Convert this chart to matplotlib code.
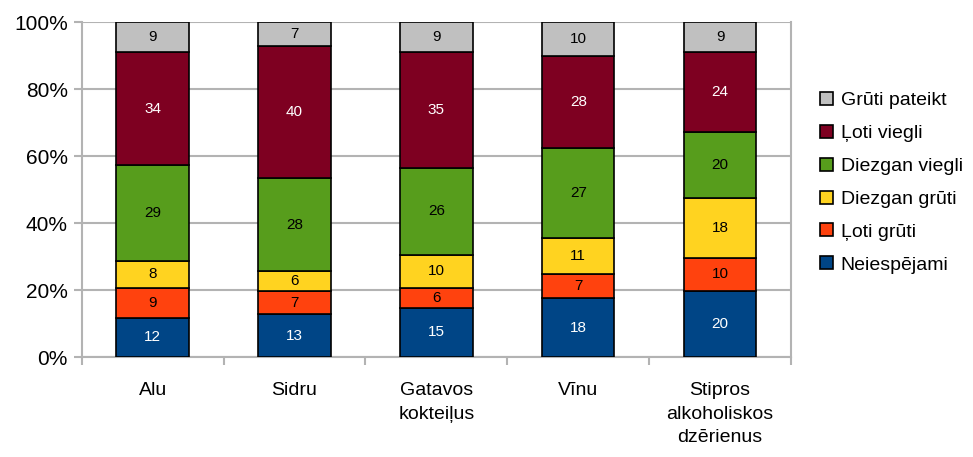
import numpy as np
from matplotlib import pyplot as plt
from matplotlib.patches import Patch

plt.rcParams['font.family'] = ['Liberation Sans', 'DejaVu Sans']

categories = ['Alu', 'Sidru', 'Gatavos\nkokteiļus', 'Vīnu', 'Stipros\nalkoholiskos\ndzērienus']
series = ['Neiespējami', 'Ļoti grūti', 'Diezgan grūti', 'Diezgan viegli', 'Ļoti viegli', 'Grūti pateikt']
neiespejami = [12, 13, 15, 18, 20]
loti_gruti = [9, 7, 6, 7, 10]
diezgan_gruti = [8, 6, 10, 11, 18]
diezgan_viegli = [29, 28, 26, 27, 20]
loti_viegli = [34, 40, 35, 28, 24]
gruti_pateikt = [9, 7, 9, 10, 9]

colors = ['#004586', '#FF420E', '#FFD320', '#579D1C', '#7E0021', '#C0C0C0']
text_colors = ['white', 'black', 'black', 'black', 'white', 'black']

if __name__ == '__main__':
    data = np.array([neiespejami, loti_gruti, diezgan_gruti,
                     diezgan_viegli, loti_viegli, gruti_pateikt], dtype=float)
    pct = data / data.sum(axis=0) * 100

    fig = plt.figure(figsize=(9.73, 4.57), dpi=100)
    ax = fig.add_axes([0.084, 0.218, 0.729, 0.733])
    x = np.arange(len(categories))
    bottom = np.zeros(len(categories))
    for i, name in enumerate(series):
        ax.bar(x, pct[i], 0.51, bottom=bottom, color=colors[i],
               edgecolor='black', linewidth=1.2, label=name, zorder=3)
        for j in range(len(categories)):
            ax.text(x[j], bottom[j] + pct[i][j] / 2, f'{int(data[i][j])}',
                    ha='center', va='center', fontsize=11, color=text_colors[i], zorder=4)
        bottom += pct[i]

    ax.set_xlim(-0.5, len(categories) - 0.5)
    ax.set_ylim(0, 100)
    ax.set_yticks(range(0, 101, 20))
    ax.set_yticklabels([f'{v}%' for v in range(0, 101, 20)], fontsize=15)
    ax.set_xticks(x)
    ax.set_xticklabels(categories, fontsize=14, linespacing=1.5)
    ax.set_xticks(np.arange(-0.5, len(categories)), minor=True)
    ax.tick_params(axis='x', which='major', length=0, pad=18)
    ax.tick_params(axis='x', which='minor', length=6, color='#B3B3B3', width=1.5)
    ax.tick_params(axis='y', length=6, color='#B3B3B3', width=1.5, pad=4)
    ax.grid(axis='y', color='#B3B3B3', linewidth=1.5, zorder=0)
    for side in ['left', 'bottom', 'right']:
        ax.spines[side].set_color('#B3B3B3')
        ax.spines[side].set_linewidth(1.5)
    ax.spines['top'].set_visible(False)

    handles = [Patch(facecolor=colors[i], edgecolor='black', linewidth=1.2, label=series[i])
               for i in range(len(series) - 1, -1, -1)]
    fig.legend(handles=handles, loc='center left', bbox_to_anchor=(0.825, 0.6),
               frameon=False, fontsize=14, handlelength=0.65, handleheight=0.65,
               handletextpad=0.4, labelspacing=0.8)

    plt.savefig('out.png', dpi=100)
